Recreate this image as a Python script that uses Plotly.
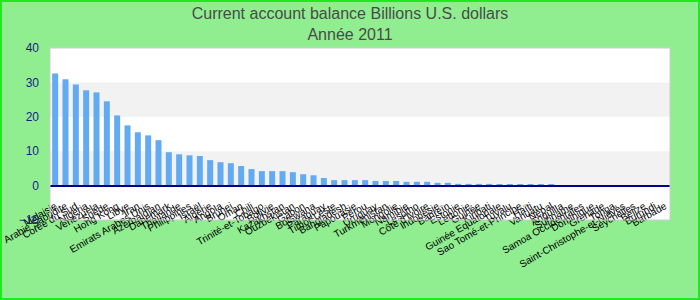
import plotly.graph_objects as go

countries = [
    "Malaisie", "Arabie Saoudite", "Corée du Sud", "Nigeria", "Venezuela", "Suède",
    "Hong Kong", "Libye", "Iran", "Emirats Arabes Unis", "Azerbaïdjan", "Danemark",
    "Thaïlande", "Philippines", "Israël", "Algérie", "Angola", "Brunei", "Oman",
    "Chili", "Trinité-et-Tobago", "Bolivie", "Kazakhstan", "Ouzbékistan", "Gabon",
    "Botswana", "Paraguay", "Timor-Leste", "Bangladesh", "Papouasie", "Pérou",
    "Uruguay", "Turkménistan", "Mongolie", "Namibie", "Lesotho", "Côte d'Ivoire",
    "Indonésie", "Bahreïn", "Estonie", "Lettonie", "Guinée", "Kiribati",
    "Guinée Equatoriale", "Tuvalu", "Sao Tomé-et-Principe", "Haïti", "Vanuatu",
    "Népal", "Anguilla", "Suriname", "Samoa Occidentales", "Dominique", "Grenade",
    "Tonga", "Saint-Christophe-et-Niévès", "Seychelles", "Belize", "Burundi", "Barbade",
]
values = [
    32.6, 30.9, 29.4, 27.7, 27.1, 24.5, 20.4, 17.5, 15.5, 14.6, 13.2, 9.7,
    9.1, 8.8, 8.6, 7.4, 6.8, 6.5, 5.7, 4.8, 4.2, 4.2, 4.2, 3.9, 3.3,
    3.0, 2.2, 1.6, 1.6, 1.6, 1.6, 1.35, 1.35, 1.35, 1.1, 1.1, 1.1,
    0.8, 0.8, 0.5, 0.5, 0.5, 0.5,
    0.3, 0.28, 0.25, 0.22, 0.2, 0.18, 0.15, 0.13, 0.12, 0.1, 0.08, 0.07,
    0.06, 0.05, 0.04, 0.03, 0.02,
]
y_range = [-10, 40]
y_ticks = [-10, 0, 10, 20, 30, 40]
bands = [(0, 10), (20, 30)]

W, H = 700, 300
ML, MR, MT, MB = 50, 30, 48, 80
pw, ph = W - ML - MR, H - MT - MB

fig = go.Figure()
fig.add_trace(go.Bar(x=countries, y=values, marker=dict(color="#62aaf2", line=dict(width=0)),
                     showlegend=False))

shapes = []
for a, b in bands:
    shapes.append(dict(type="rect", xref="paper", yref="y", x0=0, x1=1, y0=a, y1=b,
                       fillcolor="#f2f2f2", line=dict(width=0), layer="below"))
# plot area border
shapes.append(dict(type="rect", xref="paper", yref="paper", x0=0, x1=1, y0=0, y1=1,
                   line=dict(color="#cccccc", width=1), layer="above"))
# outer figure border
shapes.append(dict(type="rect", xref="paper", yref="paper",
                   x0=-(ML - 1) / pw, x1=1 + (MR - 1) / pw,
                   y0=-(MB - 1) / ph, y1=1 + (MT - 1) / ph,
                   line=dict(color="#22e822", width=2), layer="above"))

zero_pos = (0 - y_range[0]) / (y_range[1] - y_range[0])

fig.update_layout(
    width=W, height=H,
    margin=dict(l=ML, r=MR, t=MT, b=MB, pad=0, autoexpand=False),
    paper_bgcolor="#90ee90", plot_bgcolor="white",
    bargap=0.42,
    title=dict(text="Current account balance Billions U.S. dollars<br>Année 2011",
               x=0.5, xanchor="center", y=1 - 19 / H, yanchor="top", yref="container",
               font=dict(family="Liberation Sans, Arial", size=16, color="#4a4a4a")),
    xaxis=dict(anchor="free", position=zero_pos, showline=True, linecolor="#000088",
               linewidth=2, tickangle=-30, showgrid=False, ticks="outside", ticklen=10,
               tickcolor="rgba(0,0,0,0)", tickmode="linear", tick0=0, dtick=1,
               automargin=False,
               tickfont=dict(family="Liberation Sans, Arial", size=10, color="black"),
               range=[-0.5, len(countries) - 0.5], fixedrange=True),
    yaxis=dict(range=y_range, tickvals=y_ticks, showgrid=False, zeroline=False,
               ticks="", ticklabelstandoff=10, automargin=False,
               tickfont=dict(family="Liberation Sans, Arial", size=12, color="#1a1a8c")),
    shapes=shapes,
)

fig.write_html("out.html")
